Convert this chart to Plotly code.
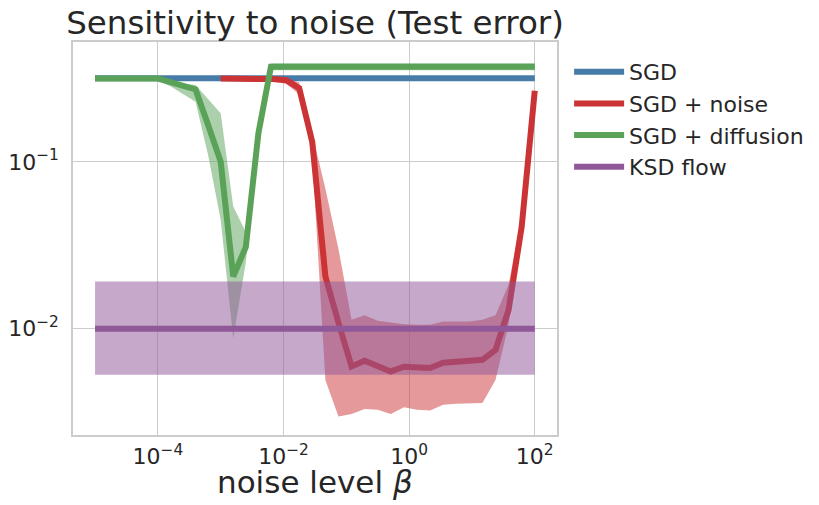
import numpy as np
import plotly.graph_objects as go

# ---------------- data ----------------
# SGD (constant)
sgd_x = [1e-5, 1e2]
sgd_y = [0.318, 0.318]
sgd_lo = [0.310, 0.310]
sgd_hi = [0.326, 0.326]

# KSD flow (constant)
ksd_x = [1e-5, 1e2]
ksd_y = [0.00995, 0.00995]
ksd_lo = [0.00526, 0.00526]
ksd_hi = [0.0191, 0.0191]

# SGD + noise
noise_logx = [-3.0, -2.792, -2.583, -2.375, -2.167, -1.958, -1.75, -1.542, -1.333,
              -1.125, -0.917, -0.708, -0.5, -0.292, -0.083, 0.125, 0.333, 0.542,
              0.75, 0.958, 1.167, 1.375, 1.583, 1.792, 2.0]
noise_y = [0.317, 0.317, 0.317, 0.317, 0.315, 0.31, 0.278, 0.132, 0.0205,
           0.0108, 0.0059, 0.00638, 0.0059, 0.00551, 0.00588, 0.00585, 0.00577, 0.00621,
           0.00632, 0.00632, 0.00647, 0.00743, 0.0129, 0.0408, 0.268]
noise_lo = [0.31, 0.31, 0.31, 0.31, 0.305, 0.295, 0.255, 0.108, 0.0049,
            0.00295, 0.00306, 0.00327, 0.00324, 0.00306, 0.00336, 0.00324, 0.00321, 0.00347,
            0.00352, 0.00355, 0.00356, 0.0049, 0.0105, 0.035, 0.25]
noise_hi = [0.324, 0.324, 0.324, 0.324, 0.323, 0.32, 0.30, 0.148, 0.069,
            0.030, 0.01125, 0.012, 0.0111, 0.01084, 0.01057, 0.0105, 0.0105, 0.011,
            0.011, 0.011, 0.01125, 0.012, 0.0183, 0.048, 0.28]

# SGD + diffusion
diff_logx = [-5.0, -4.8, -4.6, -4.4, -4.2, -4.0, -3.8, -3.6, -3.4, -3.2, -3.0, -2.8,
             -2.6, -2.4, -2.2, -2.0, -1.0, 0.0, 1.0, 2.0]
diff_y = [0.317, 0.317, 0.317, 0.317, 0.317, 0.317, 0.302, 0.286, 0.273, 0.167, 0.1005, 0.0205,
          0.0308, 0.1486, 0.3735, 0.3735, 0.3735, 0.3735, 0.3735, 0.3735]
diff_lo = [0.31, 0.31, 0.31, 0.31, 0.31, 0.31, 0.285, 0.255, 0.23, 0.11, 0.045, 0.0087,
           0.025, 0.14, 0.356, 0.356, 0.356, 0.356, 0.356, 0.356]
diff_hi = [0.324, 0.324, 0.324, 0.324, 0.324, 0.324, 0.31, 0.295, 0.29, 0.24, 0.196, 0.054,
           0.038, 0.16, 0.392, 0.392, 0.392, 0.392, 0.392, 0.392]

x_tickvals = [1e-4, 1e-2, 1e0, 1e2]
x_ticktext = ["10<sup>\u22124</sup>", "10<sup>\u22122</sup>", "10<sup>0</sup>", "10<sup>2</sup>"]
y_tickvals = [1e-1, 1e-2]
y_ticktext = ["10<sup>\u22121</sup>", "10<sup>\u22122</sup>"]

series_names = ["SGD", "SGD + noise", "SGD + diffusion", "KSD flow"]
colors = ["#477CA8", "#CB3335", "#59A257", "#905899"]
fills = ["rgba(71,124,168,0.5)", "rgba(203,51,53,0.5)", "rgba(89,162,87,0.5)", "rgba(144,88,153,0.52)"]

noise_x = [10 ** v for v in noise_logx]
diff_x = [10 ** v for v in diff_logx]

data = [
    (sgd_x, sgd_y, sgd_lo, sgd_hi),
    (noise_x, noise_y, noise_lo, noise_hi),
    (diff_x, diff_y, diff_lo, diff_hi),
    (ksd_x, ksd_y, ksd_lo, ksd_hi),
]

fig = go.Figure()
for (xs, ys, lo, hi), name, c, fc in zip(data, series_names, colors, fills):
    fig.add_trace(go.Scatter(x=xs, y=lo, mode="lines", line=dict(width=0, color=fc),
                             showlegend=False, hoverinfo="skip"))
    fig.add_trace(go.Scatter(x=xs, y=hi, mode="lines", line=dict(width=0, color=fc),
                             fill="tonexty", fillcolor=fc, showlegend=False, hoverinfo="skip"))
    fig.add_trace(go.Scatter(x=xs, y=ys, mode="lines", name=name,
                             line=dict(color=c, width=6)))

txt = "#262626"
font = "DejaVu Sans"
# page body has an 8px margin: figure is 811x497 placed at (8, 8)
fig.update_layout(
    width=811, height=497,
    margin=dict(l=65, r=262, t=34, b=70, autoexpand=False),
    paper_bgcolor="white", plot_bgcolor="white",
    font=dict(family=font, color=txt),
    title=dict(text="Sensitivity to noise (Test error)", x=0.5, xref="paper",
               y=1 - 15 / 497, yref="container", yanchor="middle", xanchor="center",
               font=dict(size=32.5, family=font, color=txt)),
    legend=dict(x=1.025, y=0.977, xanchor="left", yanchor="top", traceorder="normal",
                font=dict(size=22, family=font, color=txt),
                bgcolor="rgba(0,0,0,0)", tracegroupgap=0, itemwidth=50),
    xaxis=dict(type="log", range=[-5.351, 2.354], tickvals=x_tickvals, ticktext=x_ticktext,
               showgrid=True, gridcolor="#CCCCCC", gridwidth=1, zeroline=False,
               showline=True, linecolor="#CCCCCC", linewidth=1.5, mirror=True, ticks="",
               tickfont=dict(size=22, family=font, color=txt), ticklabelstandoff=1,
               automargin=False),
    yaxis=dict(type="log", range=[-2.641, -0.279], tickvals=y_tickvals, ticktext=y_ticktext,
               showgrid=True, gridcolor="#CCCCCC", gridwidth=1, zeroline=False,
               showline=True, linecolor="#CCCCCC", linewidth=1.5, mirror=True, ticks="",
               tickfont=dict(size=22, family=font, color=txt), ticklabelstandoff=8,
               automargin=False),
    annotations=[dict(text="noise level <i>β</i>", xref="paper", yref="paper",
                      x=0.5, y=-(474 - 427) / 393, xanchor="center", yanchor="middle",
                      showarrow=False, font=dict(size=31, family=font, color=txt))],
)

fig.write_html("out.html")
